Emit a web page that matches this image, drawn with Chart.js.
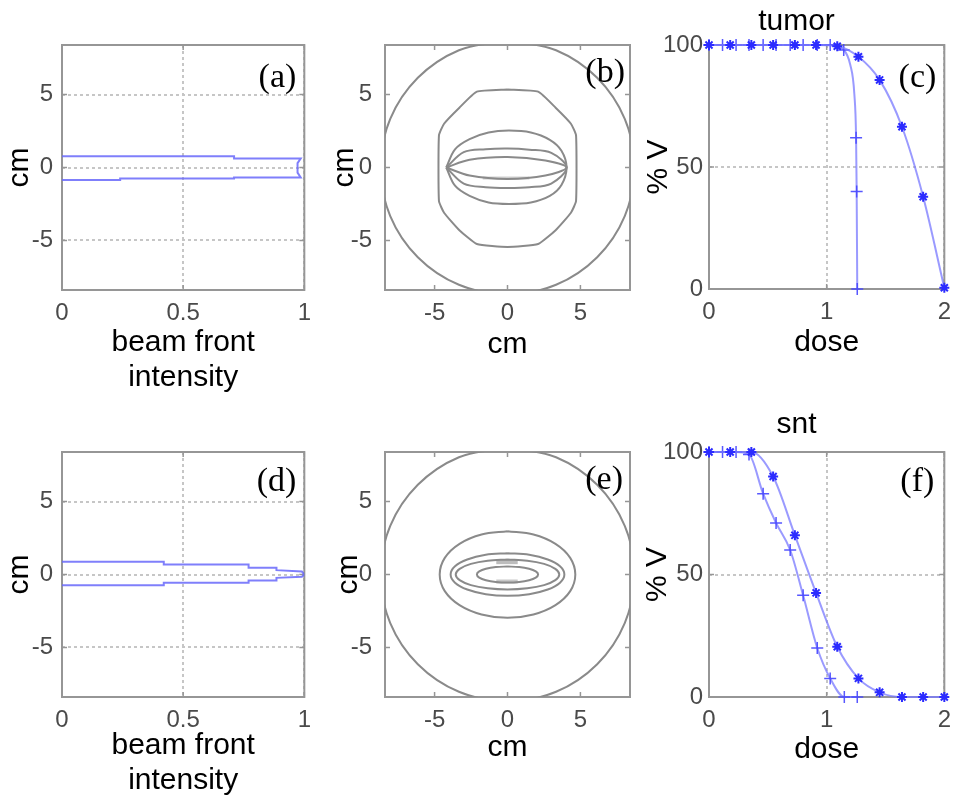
<!DOCTYPE html>
<html>
<head>
<meta charset="utf-8">
<title>beam front, dose maps and DVH</title>
<script src="https://cdn.jsdelivr.net/npm/chart.js@4.4.0/dist/chart.umd.min.js"></script>
<style>
  body { margin: 0; background: #fff; }
  #wrap { position: relative; width: 960px; height: 803px; background: #fff; }
  canvas { position: absolute; }
</style>
</head>
<body>
<div id="wrap">
  <canvas id="pa" width="320" height="400" style="left:0;top:0"></canvas>
  <canvas id="pb" width="320" height="400" style="left:320px;top:0"></canvas>
  <canvas id="pc" width="320" height="400" style="left:640px;top:0"></canvas>
  <canvas id="pd" width="320" height="403" style="left:0;top:400px"></canvas>
  <canvas id="pe" width="320" height="403" style="left:320px;top:400px"></canvas>
  <canvas id="pf" width="320" height="403" style="left:640px;top:400px"></canvas>
</div>
<script>
// tick values
const intensityTicks = [0, 0.5, 1];
const cmTicks = [-5, 0, 5];
const doseTicks = [0, 1, 2];
const pctTicks = [0, 50, 100];

// (a) beam front for tumor
const aBeamX = [0, 0.71, 0.71, 0.985, 0.972, 0.972, 0.985, 0.71, 0.71, 0.24, 0.24, 0];
const aBeamY = [0.77, 0.77, 0.62, 0.62, 0.3, -0.35, -0.68, -0.68, -0.75, -0.75, -0.85, -0.85];

// (d) beam front for snt
const dBeamX = [0, 0.42, 0.42, 0.77, 0.77, 0.885, 0.885, 0.99, 1, 0.99, 0.885, 0.885, 0.77, 0.77, 0.42, 0.42, 0];
const dBeamY = [0.87, 0.87, 0.68, 0.68, 0.46, 0.46, 0.3, 0.2, 0, -0.15, -0.23, -0.41, -0.41, -0.57, -0.57, -0.73, -0.73];

// outer body contour (b, e)
const skinX = [0, -3.33, -6.15, -8.04, -8.7, -8.04, -6.15, -3.33, 0, 3.33, 6.15, 8.04, 8.7, 8.04, 6.15, 3.33, 0];
const skinY = [8.7, 8.04, 6.15, 3.33, 0, -3.33, -6.15, -8.04, -8.7, -8.04, -6.15, -3.33, 0, 3.33, 6.15, 8.04, 8.7];

// (b) dose contours
const b2X = [0, 2.1, 3.3, 4.35, 4.7, 4.7, 4.35, 3.3, 2.1, 0, -2.1, -3.3, -4.35, -4.7, -4.7, -4.35, -3.3, -2.1, 0];
const b2Y = [5.35, 5.2, 4.1, 3.0, 2.2, -2.3, -3.1, -4.3, -5.25, -5.45, -5.25, -4.3, -3.1, -2.3, 2.2, 3.0, 4.1, 5.2, 5.35];
const b3X = [-4.2, -3.6, -2.6, -1.3, 0.1, 1.6, 2.9, 3.7, 4.05, 3.7, 2.9, 1.6, 0.1, -1.3, -2.6, -3.6, -4.2];
const b3Y = [0, 1.25, 1.95, 2.4, 2.53, 2.4, 1.9, 1.15, 0, -1.2, -1.95, -2.4, -2.5, -2.4, -1.95, -1.25, 0];
const b4X = [-4.2, -3.0, -1.5, 0, 1.5, 3.0, 4.05, 3.0, 1.5, 0, -1.5, -3.0, -4.2];
const b4Y = [0, 1.05, 1.25, 1.3, 1.22, 1.0, 0, -1.1, -1.35, -1.4, -1.35, -1.1, 0];
const b5X = [-4.2, -2.6, 0, 2.6, 4.05, 2.6, 0, -2.6, -4.2];
const b5Y = [0, 0.53, 0.72, 0.48, 0, -0.55, -0.78, -0.55, 0];
const bPatchX = [-1.7, 1.5];
const bPatchY = [-0.72, -0.72];

// (e) dose contours
const e2X = [0, -1.78, -3.29, -4.30, -4.65, -4.30, -3.29, -1.78, 0, 1.78, 3.29, 4.30, 4.65, 4.30, 3.29, 1.78, 0];
const e2Y = [2.97, 2.74, 2.10, 1.14, 0, -1.14, -2.10, -2.74, -2.97, -2.74, -2.10, -1.14, 0, 1.14, 2.10, 2.74, 2.97];
const e3X = [0, -1.49, -2.76, -3.60, -3.9, -3.60, -2.76, -1.49, 0, 1.49, 2.76, 3.60, 3.9, 3.60, 2.76, 1.49, 0];
const e3Y = [1.46, 1.35, 1.03, 0.56, 0, -0.56, -1.03, -1.35, -1.46, -1.35, -1.03, -0.56, 0, 0.56, 1.03, 1.35, 1.46];
const e4X = [0, -1.36, -2.51, -3.28, -3.55, -3.28, -2.51, -1.36, 0, 1.36, 2.51, 3.28, 3.55, 3.28, 2.51, 1.36, 0];
const e4Y = [1.03, 0.95, 0.73, 0.39, 0, -0.39, -0.73, -0.95, -1.03, -0.95, -0.73, -0.39, 0, 0.39, 0.73, 0.95, 1.03];
const e5X = [0, -0.80, -1.48, -1.94, -2.1, -1.94, -1.48, -0.80, 0, 0.80, 1.48, 1.94, 2.1, 1.94, 1.48, 0.80, 0];
const e5Y = [0.55, 0.51, 0.39, 0.21, 0, -0.21, -0.39, -0.51, -0.55, -0.51, -0.39, -0.21, 0, 0.21, 0.39, 0.51, 0.55];
const ePatchTopX = [-0.77, 0.7];
const ePatchTopY = [0.88, 0.88];
const ePatchBotX = [-0.77, 0.7];
const ePatchBotY = [-0.48, -0.48];

// (c) tumor DVH
const cPlanX = [0, 0.18, 0.36, 0.545, 0.73, 0.91, 1.09, 1.27, 1.45, 1.64, 1.82, 2.0];
const cPlanY = [100, 100, 100, 100, 100, 100, 99.5, 95.2, 85.7, 66.5, 37.8, 0.5];
const cSimX = [0, 0.115, 0.23, 0.34, 0.46, 0.57, 0.69, 0.8, 0.92, 1.03, 1.145, 1.2, 1.235, 1.25, 1.255, 1.26];
const cSimY = [100, 100, 100, 100, 100, 100, 100, 100, 100, 100, 98, 92, 80, 62, 40, 0];

// (f) snt DVH
const fPlanX = [0, 0.18, 0.36, 0.545, 0.73, 0.91, 1.09, 1.27, 1.45, 1.64, 1.82, 2.0];
const fPlanY = [100, 100, 100, 90, 66, 42.5, 20.5, 7.6, 1.9, 0, 0, 0];
const fSimX = [0, 0.115, 0.23, 0.34, 0.46, 0.57, 0.69, 0.8, 0.92, 1.03, 1.15, 1.26];
const fSimY = [100, 100, 100, 99, 83, 71, 60, 41.5, 20, 7.6, 0, 0];

const SANS = "'Liberation Sans', Arial, Helvetica, sans-serif";
const SERIF = "'Liberation Serif', 'Times New Roman', serif";
const BEAM = 'rgba(105,105,250,0.85)';
const CONTOUR = '#8a8a8a';
const DVH = 'rgba(120,120,255,0.75)';
const MARK = '#2b2bff';

function pts(xs, ys) {
  return xs.map((x, i) => ({ x: x, y: ys[i] }));
}

function line(xs, ys, color, width, extra) {
  return Object.assign({
    data: pts(xs, ys),
    showLine: true,
    borderColor: color,
    borderWidth: width,
    pointRadius: 0,
    tension: 0,
    clip: 0
  }, extra || {});
}

// box round the plot area, small inner ticks and the panel letter
const boxPlugin = {
  id: 'box',
  beforeDatasetsDraw(chart) {
    const { ctx, chartArea: a, scales: { x, y } } = chart;
    ctx.save();
    ctx.strokeStyle = '#969696';
    ctx.lineWidth = 2;
    ctx.strokeRect(a.left, a.top, a.right - a.left, a.bottom - a.top);
    ctx.lineWidth = 1.5;
    ctx.beginPath();
    x.ticks.forEach(t => {
      const p = x.getPixelForValue(t.value);
      ctx.moveTo(p, a.bottom); ctx.lineTo(p, a.bottom - 5);
      ctx.moveTo(p, a.top); ctx.lineTo(p, a.top + 5);
    });
    y.ticks.forEach(t => {
      const p = y.getPixelForValue(t.value);
      ctx.moveTo(a.left, p); ctx.lineTo(a.left + 5, p);
      ctx.moveTo(a.right, p); ctx.lineTo(a.right - 5, p);
    });
    ctx.stroke();
    ctx.restore();
  },
  afterDraw(chart, args, opts) {
    const { ctx, chartArea: a } = chart;
    ctx.save();
    ctx.font = '34px ' + SERIF;
    ctx.fillStyle = '#000';
    ctx.textAlign = 'right';
    ctx.textBaseline = 'middle';
    ctx.fillText(opts.label, a.right - opts.dx, a.top + opts.dy);
    ctx.restore();
  }
};

function axis(horizontal, min, max, ticks, o) {
  return {
    type: 'linear',
    position: horizontal ? 'bottom' : 'left',
    min: min,
    max: max,
    afterBuildTicks: s => { s.ticks = ticks.map(v => ({ value: v })); },
    afterFit: s => { if (horizontal) s.height = o.size; else s.width = o.size; },
    grid: { display: o.grid, drawTicks: false, color: '#c6c6c6', lineWidth: 2 },
    border: { display: false, dash: [3, 3] },
    ticks: {
      autoSkip: false,
      maxRotation: 0,
      padding: o.tickPad,
      color: '#4a4a4a',
      font: { family: SANS, size: 24 },
      callback: v => String(v)
    },
    title: {
      display: true,
      text: o.title,
      color: '#000',
      font: { family: SANS, size: 30, lineHeight: 1.18 },
      padding: horizontal ? { top: 0, bottom: o.titlePad } : { top: o.titlePad, bottom: 0 }
    }
  };
}

function panel(id, p) {
  return new Chart(document.getElementById(id), {
    type: 'scatter',
    data: { datasets: p.datasets },
    options: {
      responsive: false,
      animation: false,
      layout: { padding: { top: p.padTop, right: p.padRight, bottom: 0, left: 0 } },
      plugins: {
        legend: { display: false },
        tooltip: { enabled: false },
        title: p.title ? {
          display: true,
          text: p.title,
          color: '#000',
          font: { family: SANS, size: 30, weight: 'normal', lineHeight: 1.2 },
          padding: p.titlePad
        } : { display: false },
        box: { label: p.label, dx: p.labelDx, dy: p.labelDy }
      },
      scales: { x: p.x, y: p.y }
    },
    plugins: [boxPlugin]
  });
}

function contourSets(list) {
  return list.map(c => line(c[0], c[1], c[2] || CONTOUR, c[3] || 2, { tension: c[4] === undefined ? 0.34 : c[4] }));
}

function dvhSets(planX, planY, simX, simY, simRadius) {
  return [
    line(planX, planY, DVH, 2, {
      cubicInterpolationMode: 'monotone', clip: false,
      pointStyle: 'star', pointRadius: 5, pointBorderColor: MARK, pointBackgroundColor: MARK, pointBorderWidth: 2
    }),
    line(simX, simY, DVH, 2, {
      cubicInterpolationMode: 'monotone', clip: false,
      pointStyle: 'cross', pointRadius: simRadius, pointBorderColor: 'rgba(70,70,255,0.9)', pointBorderWidth: 1.5
    })
  ];
}

// (a)
panel('pa', {
  padTop: 45, padRight: 14, label: '(a)', labelDx: 8, labelDy: 33,
  datasets: [line(aBeamX, aBeamY, BEAM, 2)],
  x: axis(true, 0, 1, intensityTicks, { size: 110, grid: true, tickPad: 9, title: ['beam front', 'intensity'], titlePad: 4.5 }),
  y: axis(false, -8.4, 8.4, cmTicks, { size: 62, grid: true, tickPad: 9, title: 'cm', titlePad: 2 })
});

// (b)
panel('pb', {
  padTop: 45, padRight: 10, label: '(b)', labelDx: 5, labelDy: 28,
  datasets: contourSets([
    [skinX, skinY], [b2X, b2Y, null, 2, 0.15], [b3X, b3Y], [b4X, b4Y], [b5X, b5Y],
    [bPatchX, bPatchY, '#cfcfcf', 3, 0]
  ]),
  x: axis(true, -8.4, 8.4, cmTicks, { size: 110, grid: false, tickPad: 9, title: 'cm', titlePad: 37.5 }),
  y: axis(false, -8.4, 8.4, cmTicks, { size: 65, grid: false, tickPad: 13, title: 'cm', titlePad: 7.5 })
});

// (c)
panel('pc', {
  padTop: 0, padRight: 7, label: '(c)', labelDx: 8, labelDy: 33,
  title: 'tumor', titlePad: { top: 4, bottom: 5 },
  datasets: dvhSets(cPlanX, cPlanY, cSimX, cSimY, [6, 6, 6, 6, 6, 6, 6, 6, 6, 6, 6, 0, 0, 6, 6, 6]),
  x: axis(true, 0, 2, doseTicks, { size: 111, grid: true, tickPad: 9, title: 'dose', titlePad: 39.5 }),
  y: axis(false, 0, 100, pctTicks, { size: 69, grid: true, tickPad: 6, title: '% V', titlePad: 1 })
});

// (d)
panel('pd', {
  padTop: 52, padRight: 14, label: '(d)', labelDx: 8, labelDy: 30,
  datasets: [line(dBeamX, dBeamY, BEAM, 2)],
  x: axis(true, 0, 1, intensityTicks, { size: 106, grid: true, tickPad: 9, title: ['beam front', 'intensity'], titlePad: 4.5 }),
  y: axis(false, -8.4, 8.4, cmTicks, { size: 62, grid: true, tickPad: 9, title: 'cm', titlePad: 2.5 })
});

// (e)
panel('pe', {
  padTop: 52, padRight: 10, label: '(e)', labelDx: 7, labelDy: 28,
  datasets: contourSets([
    [skinX, skinY], [e2X, e2Y], [e3X, e3Y], [e4X, e4Y], [e5X, e5Y],
    [ePatchTopX, ePatchTopY, '#bdbdbd', 5, 0], [ePatchBotX, ePatchBotY, '#c8c8c8', 4, 0]
  ]),
  x: axis(true, -8.4, 8.4, cmTicks, { size: 106, grid: false, tickPad: 9, title: 'cm', titlePad: 37.5 }),
  y: axis(false, -8.4, 8.4, cmTicks, { size: 65, grid: false, tickPad: 13, title: 'cm', titlePad: 11 })
});

// (f)
panel('pf', {
  padTop: 0, padRight: 7, label: '(f)', labelDx: 10, labelDy: 30,
  title: 'snt', titlePad: { top: 7, bottom: 9 },
  datasets: dvhSets(fPlanX, fPlanY, fSimX, fSimY, 6),
  x: axis(true, 0, 2, doseTicks, { size: 106, grid: true, tickPad: 9, title: 'dose', titlePad: 36 }),
  y: axis(false, 0, 100, pctTicks, { size: 69, grid: true, tickPad: 6, title: '% V', titlePad: 0.5 })
});
</script>
</body>
</html>
